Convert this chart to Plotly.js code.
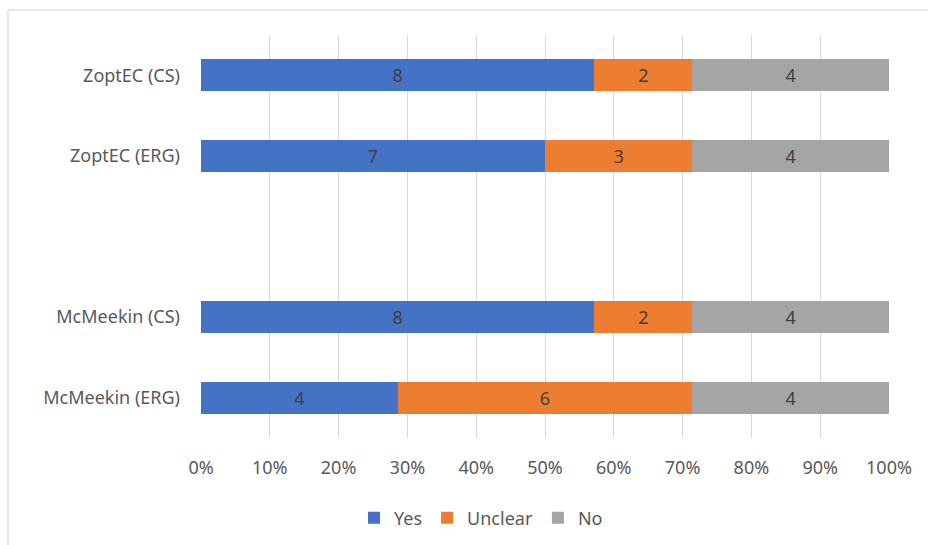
<!DOCTYPE html>
<html>
<head>
<meta charset="utf-8">
<script src="https://cdn.plot.ly/plotly-3.0.1.min.js"></script>
<style>html,body{margin:0;padding:0;background:#fff;}#chart{width:928px;height:545px;}</style>
</head>
<body>
<div id="chart"></div>
<script>
const categories = ["ZoptEC (CS)", "ZoptEC (ERG)", " ", "McMeekin (CS)", "McMeekin (ERG)"];
const yesValues = [8, 7, null, 8, 4];
const unclearValues = [2, 3, null, 2, 6];
const noValues = [4, 4, null, 4, 4];
const seriesNames = ["Yes", "Unclear", "No"];
const seriesColors = ["#4472C4", "#ED7D31", "#A5A5A5"];
const xTicks = [0, 10, 20, 30, 40, 50, 60, 70, 80, 90, 100];

const font = "Noto Sans, Open Sans, sans-serif";
const seriesData = [yesValues, unclearValues, noValues];
const traces = seriesData.map((vals, i) => ({
  type: "bar",
  orientation: "h",
  name: seriesNames[i],
  y: categories,
  x: vals,
  marker: {color: seriesColors[i], line: {width: 0}},
  text: vals.map(v => v == null ? "" : String(v)),
  textposition: "inside",
  insidetextanchor: "middle",
  textangle: 0,
  constraintext: "none",
  textfont: {family: font, size: 18, color: "#404040"},
  hoverinfo: "x+y+name"
}));

const layout = {
  width: 928, height: 545,
  margin: {l: 201, r: 39, t: 35, b: 107, autoexpand: false},
  paper_bgcolor: "#fff", plot_bgcolor: "#fff",
  barmode: "stack",
  barnorm: "percent",
  bargap: 0.6,
  font: {family: font, size: 18, color: "#595959"},
  xaxis: {
    range: [0, 100],
    tickvals: xTicks,
    ticktext: xTicks.map(t => t + "%"),
    showgrid: true, gridcolor: "#D9D9D9", gridwidth: 1,
    zeroline: false, showline: false, ticks: "",
    ticklabelstandoff: 17,
    automargin: false,
    tickfont: {family: font, size: 18, color: "#595959"},
    fixedrange: true
  },
  yaxis: {
    type: "category",
    categoryorder: "array",
    categoryarray: categories.slice().reverse(),
    showgrid: false, zeroline: false, showline: false, ticks: "",
    ticklabelstandoff: 20,
    automargin: false,
    tickfont: {family: font, size: 18, color: "#595959"},
    fixedrange: true
  },
  legend: {
    orientation: "h",
    x: 0.407, xanchor: "center",
    y: -0.1985, yanchor: "middle",
    traceorder: "normal",
    font: {family: font, size: 18, color: "#595959"},
    itemwidth: 30
  },
  shapes: [
    {type: "line", xref: "paper", yref: "paper", x0: (8-201)/688, x1: (928-201)/688, y0: (438-10)/403, y1: (438-10)/403, line: {color: "#E6E6E6", width: 2}},
    {type: "line", xref: "paper", yref: "paper", x0: (8-201)/688, x1: (8-201)/688, y0: (438-10)/403, y1: (438-545)/403, line: {color: "#E6E6E6", width: 2}}
  ],
  showlegend: true
};

Plotly.newPlot("chart", traces, layout, {displayModeBar: false, staticPlot: true});
</script>
</body>
</html>
